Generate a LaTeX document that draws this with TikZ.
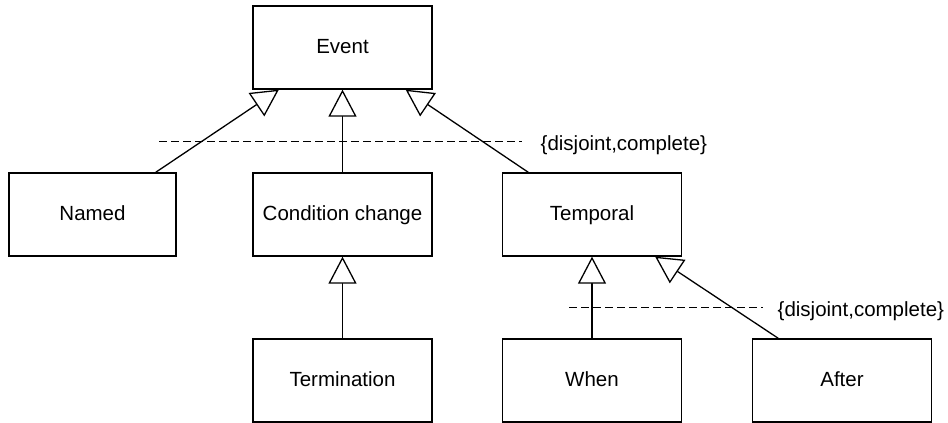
\documentclass[tikz,border=0pt]{standalone}
\usepackage{fontspec}
\setmainfont{Liberation Sans}
\usetikzlibrary{arrows.meta,calc}
\begin{document}
\begin{tikzpicture}[x=1pt,y=-1pt,
  line width=1.3pt,
  cls/.style={draw, minimum width=179pt, minimum height=83pt, inner sep=0pt,
    text height=15pt, text depth=4pt, font=\fontsize{20.5}{24}\selectfont},
  gen/.style={-{Triangle[open,length=27pt,width=28pt,fill=white]}},
  constraint/.style={dashed, dash pattern=on 8pt off 4pt},
  note/.style={inner sep=0pt, anchor=base west, font=\fontsize{20.5}{24}\selectfont}]
  \useasboundingbox (0,0) rectangle (948,423);

  % classes
  \node[cls] (event) at (342.5,47.5) {Event};
  \node[cls, minimum width=167pt] (named) at (92.5,214.5) {Named};
  \node[cls] (cond) at (342.5,214.5) {Condition change};
  \node[cls] (temporal) at (592,214.5) {Temporal};
  \node[cls] (term) at (342.5,380.5) {Termination};
  \node[cls] (when) at (592,380.5) {When};
  \node[cls] (after) at (842,380.5) {After};

  % generalisations
  \draw[gen] ($(named.north east)+(-21,0)$) -- ($(event.south west)+(26.5,0)$);
  \draw[gen] (cond.north) -- (event.south);
  \draw[gen] ($(temporal.north west)+(26.5,0)$) -- ($(event.south east)+(-27,0)$);
  \draw[gen] (term.north) -- (cond.south);
  \draw[gen] (when.north) -- (temporal.south);
  \draw[gen] ($(after.north west)+(26.5,0)$) -- ($(temporal.south east)+(-27,0)$);

  % generalisation set constraints
  \node[note] (c1) at (540,150.5) {\{disjoint,complete\}};
  \coordinate (c1s) at (159,141.7);
  \draw[constraint] (c1s) -- ($(c1.base west)+(-18,-8.8)$);

  \node[note] (c2) at (777,316.2) {\{disjoint,complete\}};
  \coordinate (c2s) at (569,307.3);
  \draw[constraint] (c2s) -- ($(c2.base west)+(-14,-8.9)$);
\end{tikzpicture}
\end{document}
